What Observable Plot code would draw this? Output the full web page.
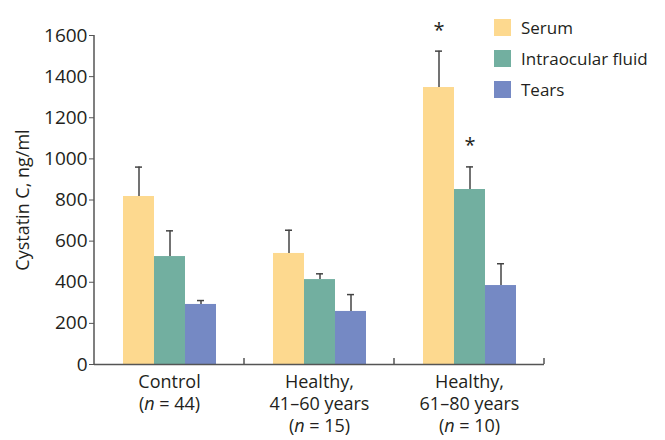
<!DOCTYPE html>
<html>
<head>
<meta charset="utf-8">
<script src="https://cdn.jsdelivr.net/npm/d3@7"></script>
<script src="https://cdn.jsdelivr.net/npm/@observablehq/plot@0.6"></script>
<style>
  html, body { margin: 0; padding: 0; background: #fff; }
  #wrap { position: relative; width: 665px; height: 440px; font-family: "Open Sans", sans-serif; color: #231f20; }
  #legend { position: absolute; left: 494px; top: 12px; font-size: 17px; }
  .row { display: flex; align-items: center; height: 31px; }
  .sw { width: 17px; height: 17px; margin-right: 10px; }
</style>
</head>
<body>
<div id="wrap"><div id="legend"></div></div>
<script>
const groups = ["Control", "Healthy 41–60", "Healthy 61–80"];
const groupLabels = ["Control\n(n = 44)", "Healthy,\n41–60 years\n(n = 15)", "Healthy,\n61–80 years\n(n = 10)"];
const series = ["Serum", "Intraocular fluid", "Tears"];
const colors = ["#FDD98F", "#72AFA0", "#7589C4"];
const serumMean = [817, 540, 1347];
const serumErr = [960, 653, 1524];
const fluidMean = [525, 413, 851];
const fluidErr = [650, 441, 961];
const tearsMean = [292, 258, 384];
const tearsErr = [311, 340, 490];
const significant = [[false, false, true], [false, false, true], [false, false, false]];
const yTicks = [0, 200, 400, 600, 800, 1000, 1200, 1400, 1600];

const means = [serumMean, fluidMean, tearsMean];
const errs = [serumErr, fluidErr, tearsErr];
const data = [];
groups.forEach((g, gi) => series.forEach((s, si) => {
  data.push({group: g, series: s, value: means[si][gi], err: errs[si][gi], sig: significant[si][gi]});
}));
const stars = data.filter(d => d.sig);
const labelOf = new Map(groups.map((g, i) => [g, groupLabels[i]]));

const plot = Plot.plot({
  width: 665,
  height: 440,
  marginLeft: 93,
  marginRight: 121,
  marginTop: 35,
  marginBottom: 76,
  style: {fontFamily: "Open Sans, sans-serif", fontSize: "18px", color: "#231f20", background: "transparent"},
  fx: {domain: groups, paddingInner: 0, paddingOuter: 0, label: null},
  x: {domain: series, paddingInner: 0, paddingOuter: 0.91, axis: null},
  y: {domain: [0, 1600], axis: null},
  color: {domain: series, range: colors},
  marks: [
    Plot.barY(data, {fx: "group", x: "series", y: "value", fill: "series"}),
    Plot.ruleX(data, {fx: "group", x: "series", y1: "value", y2: "err", stroke: "#444", strokeWidth: 1.5}),
    Plot.tickY(data, {fx: "group", x: "series", y: "err", stroke: "#444", strokeWidth: 1.5, insetLeft: 12, insetRight: 12}),
    Plot.text(stars, {fx: "group", x: "series", y: "err", text: () => "*", dy: -21, fontSize: 20, fill: "#231f20"}),
    Plot.ruleY([0], {stroke: "#555", strokeWidth: 1.5}),
    Plot.axisY({ticks: yTicks, tickFormat: d => String(d), tickSize: 5, tickPadding: 2, stroke: "#555", fill: "#231f20", fontSize: 19,
      label: "Cystatin C, ng/ml", labelAnchor: "center", labelArrow: "none", labelOffset: 78}),
    Plot.axisFx({anchor: "bottom", tickSize: 0, tickPadding: 8, tickFormat: g => labelOf.get(g), fontSize: 18, lineHeight: 1.22, fill: "#231f20", label: null})
  ]
});

const svg = d3.select(plot);
const fx = plot.scale("fx");
const y = plot.scale("y");
const y0 = y.apply(0), y1 = y.apply(1600);
const left = fx.apply(groups[0]);
svg.append("line").attr("x1", left).attr("x2", left).attr("y1", y1).attr("y2", y0)
  .attr("stroke", "#555").attr("stroke-width", 1.5);
groups.forEach(g => {
  const xr = fx.apply(g) + fx.bandwidth;
  svg.append("line").attr("x1", xr).attr("x2", xr).attr("y1", y0).attr("y2", y0 - 6)
    .attr("stroke", "#555").attr("stroke-width", 1.5);
});
// italic n
svg.selectAll("tspan").each(function() {
  const t = this.textContent;
  const m = t.match(/^\(n = (\d+)\)$/);
  if (m) {
    this.textContent = "";
    const s = d3.select(this);
    s.append("tspan").text("(");
    s.append("tspan").attr("font-style", "italic").text("n");
    s.append("tspan").text(" = " + m[1] + ")");
  }
});
// y-axis title size
svg.selectAll("text").filter(function() { return this.textContent === "Cystatin C, ng/ml"; })
  .attr("font-size", 18);

document.getElementById("wrap").prepend(plot);
const legend = d3.select("#legend");
series.forEach((s, i) => {
  const row = legend.append("div").attr("class", "row");
  row.append("div").attr("class", "sw").style("background", colors[i]);
  row.append("span").text(s);
});
</script>
</body>
</html>
